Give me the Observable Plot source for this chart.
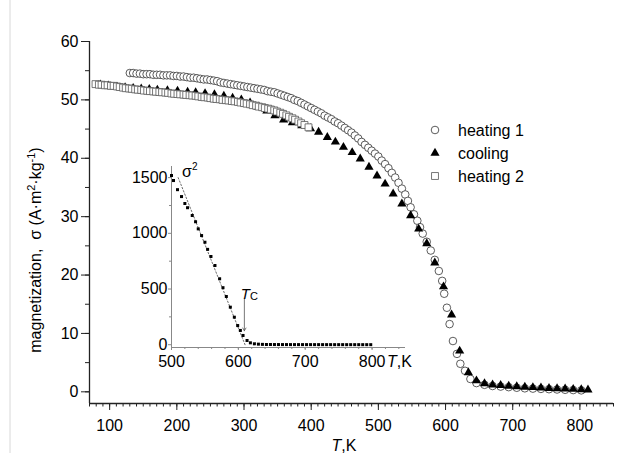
<!DOCTYPE html>
<html><head><meta charset="utf-8">
<script src="https://cdn.jsdelivr.net/npm/d3@7"></script>
<script src="https://cdn.jsdelivr.net/npm/@observablehq/plot@0.6"></script>
<style>
body{margin:0;background:#fff;}
#wrap{position:relative;width:618px;height:453px;overflow:hidden;font-family:"Liberation Sans",Arial,sans-serif;}
#inset{position:absolute;left:100px;top:150px;}
</style></head><body><div id="wrap"><div id="main"></div><div id="inset"></div></div>
<script>
// ---------- data (T in K, sigma in A·m²·kg⁻¹) ----------
const heating1 = [[130,54.6],[135,54.6],[140,54.5],[145,54.5],[150,54.4],[155,54.4],[160,54.4],[165,54.3],[170,54.3],[175,54.3],
[180,54.2],[185,54.2],[190,54.2],[195,54.1],[200,54.1],[205,54.0],[210,54.0],[215,53.9],[220,53.8],[225,53.8],
[230,53.7],[235,53.6],[240,53.5],[245,53.5],[250,53.4],[255,53.3],[260,53.2],[265,53.0],[270,52.9],[275,52.8],
[280,52.7],[285,52.6],[290,52.5],[295,52.4],[300,52.3],[305,52.2],[310,52.1],[315,52.0],[320,51.9],[325,51.8],
[330,51.7],[335,51.5],[340,51.4],[345,51.3],[350,51.1],[355,50.9],[360,50.7],[365,50.5],[370,50.3],[375,50.0],
[380,49.8],[385,49.5],[390,49.2],[395,48.9],[400,48.6],[405,48.3],[410,48.0],[415,47.7],[420,47.3],[425,47.0],
[430,46.7],[435,46.3],[440,46.0],[445,45.6],[450,45.2],[455,44.8],[460,44.4],[465,43.9],[470,43.4],[475,42.8],
[480,42.3],[485,41.8],[490,41.3],[495,40.8],[500,40.3],[505,39.6],[510,39.0],[515,38.3],[520,37.5],[525,36.7],
[530,35.8],[535,34.8],[540,33.8],[544,32.7],[548,31.6],[553,30.4],[558,29.3],[562,28.2],[566,27.1],[572,25.7],
[578,24.2],[584,22.6],[590,20.7],[595,19.0],[598,16.8],[602,14.4],[606,11.6],[611,8.7],[617,6.5],[622,4.8],
[629,3.6],[637,2.2],[646,1.5],[658,1.2],[670,1.0],[682,0.9],[694,0.8],[706,0.7],[718,0.6],[730,0.55],
[742,0.5],[754,0.45],[766,0.4],[778,0.35],[790,0.3],[802,0.25]];

const cooling = [[86,52.6],[98,52.4],[111,52.2],[123,52.1],[135,52.0],[147,51.9],[159,51.8],[171,51.7],[186,51.6],[201,51.5],
[216,51.35],[228,51.25],[242,51.1],[256,50.9],[270,50.65],[283,50.3],[296,50.0],[309,49.5],[321,48.8],[334,48.1],
[346,47.3],[359,46.6],[372,46.1],[386,45.6],[399,45.1],[411,44.5],[424,43.6],[436,42.8],[448,41.9],[461,41.0],
[473,39.9],[486,38.5],[498,37.0],[510,35.6],[522,33.9],[535,32.2],[548,30.2],[560,27.9],[572,25.4],[584,22.1],
[597,18.0],[609,13.2],[621,7.0],[634,3.3],[646,1.9],[658,1.4],[670,1.2],[682,1.1],[694,1.0],[706,0.9],
[718,0.8],[730,0.75],[742,0.7],[754,0.6],[766,0.55],[778,0.5],[790,0.45],[802,0.4],[812,0.35]];

const heating2 = [[79,52.7],[84,52.6],[88,52.6],[93,52.5],[97,52.5],[102,52.4],[106,52.4],[111,52.3],[115,52.2],[120,52.1],
[124,52.0],[129,51.95],[133,51.9],[138,51.8],[142,51.75],[147,51.7],[151,51.6],[156,51.55],[160,51.5],[165,51.45],
[169,51.4],[174,51.35],[178,51.3],[183,51.25],[187,51.2],[192,51.1],[196,51.05],[201,51.0],[205,50.95],[210,50.9],
[214,50.85],[219,50.8],[223,50.75],[228,50.7],[232,50.6],[237,50.5],[241,50.45],[246,50.4],[250,50.3],[255,50.2],
[259,50.15],[264,50.1],[268,50.0],[273,49.95],[277,49.9],[282,49.8],[286,49.75],[291,49.65],[295,49.55],[300,49.45],
[304,49.35],[309,49.25],[313,49.1],[318,49.0],[322,48.85],[327,48.75],[331,48.6],[336,48.5],[340,48.35],[345,48.2],
[349,48.0],[354,47.8],[358,47.6],[363,47.35],[367,47.1],[372,46.85],[376,46.6],[381,46.3],[385,46.0],[390,45.7],[396,45.3]];

// inset: sigma^2 vs T
const sigma2 = [[500,1519],[503,1474],[509,1392],[515,1330],[520,1268],[524,1230],[531,1160],[536,1104],[540,1040],[545,980],
[550,920],[554,856],[559,792],[565,711],[572,592],[577,512],[582,433],[588,337],[594,247],[599,172],
[603,128],[607,83],[613,38],[618,17],[624,8],[630,5],[636,3],[642,2],[648,2],[654,1.5],
[660,1.5],[666,1.2],[672,1.2],[678,1],[684,1],[690,1],[696,0.9],[702,0.9],[708,0.8],[714,0.8],
[720,0.8],[726,0.7],[732,0.7],[738,0.7],[744,0.6],[750,0.6],[756,0.6],[762,0.5],[768,0.5],[774,0.5],
[780,0.5],[786,0.4],[792,0.4],[798,0.4]];
const fitLine = [[510,1500],[610,0]];
const TC = 609;
const tcArrow = [{T: TC, from: 415, to: 125}];

// axes / ticks
const X_DOMAIN = [70, 850], Y_DOMAIN = [-2, 60];
const X_MAJOR = [100,200,300,400,500,600,700,800];
const X_MINOR = d3.range(70, 851, 10);
const Y_MAJOR = [0,10,20,30,40,50,60];
const Y_MINOR = d3.range(0, 61, 5);
const IX_DOMAIN = [500, 850], IY_DOMAIN = [-25, 1600];
const IX_MAJOR = [500,600,700,800];
const IX_MINOR = d3.range(500, 841, 20);
const IY_MAJOR = [0,500,1000,1500];
const IY_MINOR = [250,750,1250];
const LEGEND = [
  {label: "heating 1", symbol: d3.symbolCircle, r: 3.8, fill: "white", stroke: "#333"},
  {label: "cooling", symbol: d3.symbolTriangle, r: 3.4, fill: "#000", stroke: "none"},
  {label: "heating 2", symbol: d3.symbolSquare, r: 3.9, fill: "white", stroke: "#555"}
];

const FONT = '"Liberation Sans", Arial, sans-serif';
const AX = "#222";
const rows = (a, k = "s") => a.map(([T, v]) => ({T, [k]: v}));
const blank = () => "";
const plain = d => String(d);

const main = Plot.plot({
  width: 618, height: 453,
  marginLeft: 89, marginRight: 5, marginTop: 41, marginBottom: 50,
  style: {fontFamily: FONT, fontSize: "16px", color: "#000", background: "transparent", overflow: "visible"},
  x: {domain: X_DOMAIN, label: null},
  y: {domain: Y_DOMAIN, label: null},
  marks: [
    Plot.axisX(X_MINOR, {tickSize: 3.5, tickFormat: blank, label: null, stroke: AX}),
    Plot.axisX(X_MAJOR, {tickSize: 7, tickPadding: 9, tickFormat: plain, label: null, stroke: AX, fontSize: 16}),
    Plot.axisY(Y_MINOR, {tickSize: 4, tickFormat: blank, label: null, stroke: AX}),
    Plot.axisY(Y_MAJOR, {tickSize: 8, tickPadding: 3, tickFormat: plain, label: null, stroke: AX, fontSize: 16}),
    Plot.ruleY([Y_DOMAIN[0]], {stroke: AX, strokeWidth: 1.3}),
    Plot.ruleX([X_DOMAIN[0]], {stroke: AX, strokeWidth: 1.3}),
    Plot.dot(rows(heating1), {x: "T", y: "s", r: 3.8, fill: "white", stroke: "#333", strokeWidth: 0.8}),
    Plot.dot(rows(cooling), {x: "T", y: "s", symbol: "triangle", r: 3.4, fill: "#000"}),
    Plot.dot(rows(heating2), {x: "T", y: "s", symbol: "square", r: 3.9, fill: "white", stroke: "#555", strokeWidth: 0.8})
  ]
});
document.getElementById("main").appendChild(main);
const svg = d3.select(main);

svg.insert("line", ":first-child").attr("x1", 10).attr("x2", 10).attr("y1", 0).attr("y2", 453)
  .attr("stroke", "#d8d8d8").attr("stroke-width", 1);

// y label
const yl = svg.append("text").attr("transform", "translate(41,250) rotate(-90)")
  .attr("text-anchor", "middle").attr("font-size", 16).attr("fill", "#000").attr("font-family", FONT);
yl.append("tspan").text("magnetization,\u00A0 σ (A·m");
yl.append("tspan").attr("dy", -6).attr("font-size", 11).text("2");
yl.append("tspan").attr("dy", 6).text("·kg");
yl.append("tspan").attr("dy", -6).attr("font-size", 11).text("-1");
yl.append("tspan").attr("dy", 6).text(")");

// x label
const xl = svg.append("text").attr("x", 344).attr("y", 451).attr("text-anchor", "middle")
  .attr("font-size", 16).attr("fill", "#000").attr("font-family", FONT);
xl.append("tspan").attr("font-style", "italic").text("T");
xl.append("tspan").text(",K");

// legend
LEGEND.forEach((d, i) => {
  const y = 130 + i * 23;
  svg.append("path").attr("transform", `translate(435,${y})`)
    .attr("d", d3.symbol(d.symbol, Math.PI * d.r * d.r)())
    .attr("fill", d.fill).attr("stroke", d.stroke).attr("stroke-width", 0.8);
  svg.append("text").attr("x", 458).attr("y", y + 5.5).attr("font-size", 16).attr("text-anchor", "start")
    .attr("font-family", FONT).attr("fill", "#000").text(d.label);
});

// inset
const IAX = "#888";
const inset = Plot.plot({
  width: 330, height: 225,
  marginLeft: 71, marginRight: 25, marginTop: 16, marginBottom: 28,
  style: {fontFamily: FONT, fontSize: "16px", color: "#000", background: "transparent", overflow: "visible"},
  x: {domain: IX_DOMAIN, label: null},
  y: {domain: IY_DOMAIN, label: null},
  marks: [
    Plot.axisX(IX_MINOR, {tickSize: 2, tickFormat: blank, label: null, stroke: IAX}),
    Plot.axisX(IX_MAJOR, {tickSize: 3, tickPadding: 5, tickFormat: plain, label: null, stroke: IAX, fontSize: 16}),
    Plot.axisY(IY_MINOR, {tickSize: 2, tickFormat: blank, label: null, stroke: IAX}),
    Plot.axisY(IY_MAJOR, {tickSize: 3, tickPadding: 1, tickFormat: plain, label: null, stroke: IAX, fontSize: 16}),
    Plot.ruleX([IX_DOMAIN[0]], {stroke: IAX, strokeWidth: 1}),
    Plot.ruleY([IY_DOMAIN[0]], {stroke: IAX, strokeWidth: 1}),
    Plot.line(rows(fitLine, "v"), {x: "T", y: "v", stroke: "#444", strokeWidth: 0.8, strokeDasharray: "1.5,2"}),
    Plot.dot(rows(sigma2, "v"), {x: "T", y: "v", symbol: "square", r: 1.7, fill: "#000"}),
    Plot.arrow(tcArrow, {x1: "T", x2: "T", y1: "from", y2: "to", stroke: "#555", strokeWidth: 0.8, headLength: 6})
  ]
});
document.getElementById("inset").appendChild(inset);
const isvg = d3.select(inset);
const ix = inset.scale("x"), iy = inset.scale("y");

// sigma^2 label
const s2 = isvg.append("text").attr("x", 82).attr("y", 27).attr("text-anchor", "start")
  .attr("font-size", 16).attr("font-family", FONT).attr("fill", "#000");
s2.append("tspan").text("σ");
s2.append("tspan").attr("dy", -7).attr("font-size", 10).text("2");

// Tc label
const tc = isvg.append("text").attr("x", ix.apply(TC) - 3).attr("y", iy.apply(tcArrow[0].from) + 1)
  .attr("text-anchor", "start").attr("font-size", 15).attr("font-family", FONT).attr("fill", "#000");
tc.append("tspan").attr("font-style", "italic").text("T");
tc.append("tspan").attr("font-size", 11).attr("dy", 1).text("C");

// inset x label
const ixl = isvg.append("text").attr("x", 287).attr("y", 217).attr("text-anchor", "start")
  .attr("font-size", 16).attr("font-family", FONT).attr("fill", "#000");
ixl.append("tspan").attr("font-style", "italic").text("T");
ixl.append("tspan").text(",K");
</script>
</body></html>
